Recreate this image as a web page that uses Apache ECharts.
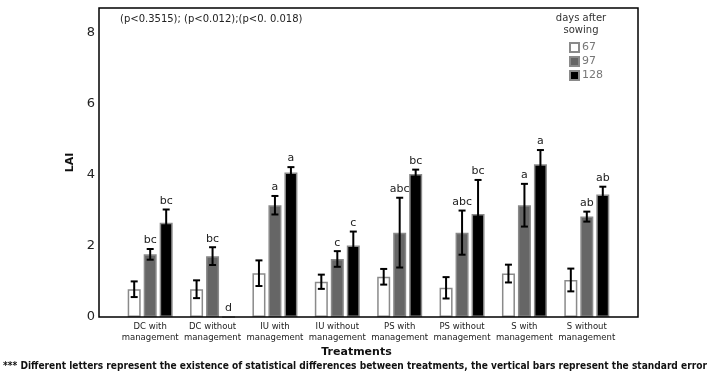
<!DOCTYPE html>
<html>
<head>
<meta charset="utf-8">
<script src="https://cdn.jsdelivr.net/npm/echarts@6/dist/echarts.min.js"></script>
<style>
  html, body { margin: 0; padding: 0; background: #fff; }
  #chart { width: 713px; height: 378px; }
</style>
</head>
<body>
<div id="chart"></div>
<script>
// LAI per treatment, three sampling dates
const categories = [
    "DC with\nmanagement", "DC without\nmanagement", "IU with\nmanagement", "IU without\nmanagement",
    "PS with\nmanagement", "PS without\nmanagement", "S with\nmanagement", "S without\nmanagement",
];
const days = ["67", "97", "128"];
const day67 = [0.78, 0.78, 1.23, 0.99, 1.13, 0.82, 1.22, 1.04];
const day97 = [1.76, 1.71, 3.14, 1.63, 2.37, 2.37, 3.14, 2.82];
const day128 = [2.65, 0, 4.06, 2.01, 4.02, 2.89, 4.29, 3.44];
const err67 = [0.22, 0.25, 0.36, 0.20, 0.22, 0.30, 0.25, 0.32];
const err97 = [0.15, 0.25, 0.26, 0.22, 0.98, 0.62, 0.60, 0.14];
const err128 = [0.37, 0, 0.15, 0.39, 0.12, 0.96, 0.40, 0.22];
const letters67 = ["", "", "", "", "", "", "", ""];
const letters97 = ["bc", "bc", "a", "c", "abc", "abc", "a", "ab"];
const letters128 = ["bc", "d", "a", "c", "bc", "bc", "a", "ab"];
const yTicks = [0, 2, 4, 6, 8];

const Y_MAX = 8.68;
const BAR_W = 13;
const GAP = 0.23;
const FONT = "DejaVu Sans";

const chart = echarts.init(document.getElementById("chart"));

const fills = ["#ffffff", "#666666", "#000000"];
const values = [day67, day97, day128];
const errs = [err67, err97, err128];
const letters = [letters67, letters97, letters128];

const barSeries = days.map((d, i) => ({
    name: d,
    type: "bar",
    xAxisIndex: 0,
    yAxisIndex: 0,
    barWidth: BAR_W,
    barGap: (GAP * 100) + "%",
    data: values[i],
    itemStyle: { color: fills[i], borderColor: "#8a8a8a", borderWidth: 1.5 },
    z: 2,
}));

const step = BAR_W * (1 + GAP);
const errSeries = days.map((d, i) => ({
    type: "custom",
    xAxisIndex: 0,
    yAxisIndex: 0,
    z: 5,
    data: values[i].map((v, k) => [k, v, errs[i][k]]),
    renderItem: (params, api) => {
        const k = api.value(0);
        const v = api.value(1);
        const e = api.value(2);
        const letter = letters[i][k];
        const off = (i - 1) * step;
        const hi = api.coord([k, v + e]);
        const lo = api.coord([k, v - e]);
        const x = hi[0] + off;
        const children = [];
        if (e > 0) {
            const cap = 3.5;
            const ls = { stroke: "#000", lineWidth: 2 };
            children.push(
                { type: "line", shape: { x1: x, y1: hi[1], x2: x, y2: lo[1] }, style: ls },
                { type: "line", shape: { x1: x - cap, y1: hi[1], x2: x + cap, y2: hi[1] }, style: ls },
                { type: "line", shape: { x1: x - cap, y1: lo[1], x2: x + cap, y2: lo[1] }, style: ls },
            );
        }
        if (letter) {
            children.push({
                type: "text",
                style: {
                    text: letter, x: x, y: hi[1] - 3,
                    align: "center", verticalAlign: "bottom",
                    fill: "#222", font: "11px '" + FONT + "'",
                },
            });
        }
        return { type: "group", children };
    },
}));

chart.setOption({
    animation: false,
    backgroundColor: "#fff",
    textStyle: { fontFamily: FONT },
    grid: [
        { left: 119, right: 95, top: 8, bottom: 61 },
        { left: 99, right: 75, top: 8, bottom: 61, show: true, borderColor: "#000", borderWidth: 1.5, z: 10 },
    ],
    legend: {
        data: days,
        icon: "rect",
        orient: "vertical",
        left: 564,
        top: 37,
        itemWidth: 9,
        itemHeight: 9,
        itemGap: 3,
        selectedMode: false,
        textStyle: { color: "#777", fontSize: 11, fontFamily: FONT, padding: [0, 0, 0, -2] },
    },
    xAxis: [
        {
            type: "category",
            gridIndex: 0,
            data: categories,
            axisLine: { show: false },
            axisTick: { show: false },
            axisLabel: { color: "#222", fontSize: 8.5, lineHeight: 10.5, margin: 5, interval: 0 },
        },
        { type: "value", gridIndex: 1, show: false },
    ],
    yAxis: [
        { type: "value", gridIndex: 0, min: 0, max: Y_MAX, show: false },
        {
            type: "value",
            gridIndex: 1,
            min: 0,
            max: Y_MAX,
            interval: 2,
            splitLine: { show: false },
            axisTick: { show: false },
            axisLine: { show: false },
            axisLabel: {
                color: "#222", fontSize: 13, margin: 4,
                formatter: (v) => (yTicks.includes(v) ? String(v) : ""),
            },
            name: "LAI",
            nameLocation: "middle",
            nameGap: 19,
            nameTextStyle: { fontWeight: "bold", fontSize: 11, color: "#111" },
        },
    ],
    graphic: [
        {
            type: "text", left: 120, top: 14,
            style: { text: "(p<0.3515); (p<0.012);(p<0. 0.018)", font: "10px '" + FONT + "'", fill: "#222" },
        },
        {
            type: "text", x: 581, y: 12,
            style: { text: "days after\nsowing", font: "10px '" + FONT + "'", fill: "#333", align: "center", lineHeight: 12 },
        },
        {
            type: "text", left: "center", top: 347,
            style: { text: "Treatments", font: "bold 11px '" + FONT + "'", fill: "#111" },
        },
        {
            type: "text", left: 3, top: 361,
            style: {
                text: "*** Different letters represent the existence of statistical differences between treatments, the vertical bars represent the standard error",
                font: "bold 10.1px 'DejaVu Sans Condensed'", fill: "#111",
            },
        },
    ],
    series: [...barSeries, ...errSeries],
});
</script>
</body>
</html>
